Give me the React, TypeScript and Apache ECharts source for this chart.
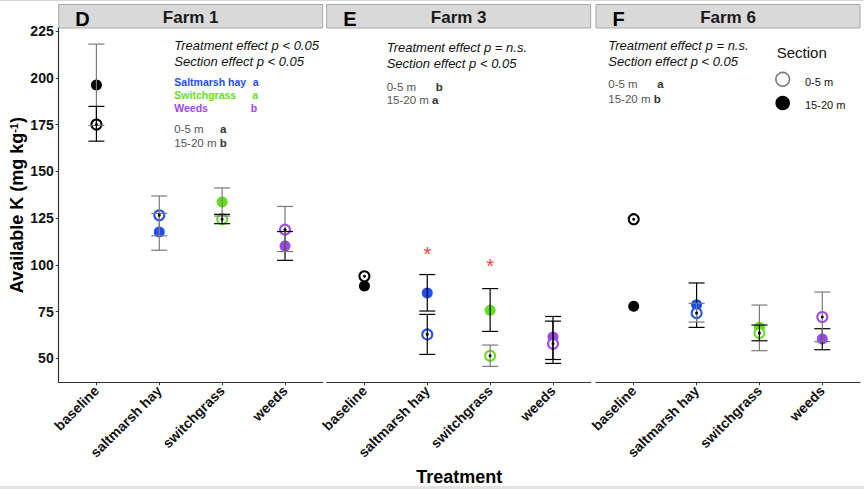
import React, { useEffect, useRef } from "react";
import * as echarts from "echarts";

// ---------- data ----------
const categories = ["baseline", "saltmarsh hay", "switchgrass", "weeds"];
const farms = ["Farm 1", "Farm 3", "Farm 6"];
const panelLetters = ["D", "E", "F"];
const yTicks = [50, 75, 100, 125, 150, 175, 200, 225];
const sectionLabels = ["0-5 m", "15-20 m"];

// 0-5 m (open circles): mean, lower, upper
const farm1Shallow = [175.0, 126.5, 124.4, 118.8];
const farm1ShallowLow = [166.1, 115.5, 122.0, 107.1];
const farm1ShallowHigh = [184.7, 136.8, 127.0, 131.2];
// 15-20 m (filled circles)
const farm1Deep = [196.1, 117.6, 133.6, 110.1];
const farm1DeepLow = [174.5, 107.8, 126.1, 102.4];
const farm1DeepHigh = [218.0, 127.5, 141.1, 117.8];

const farm3Shallow = [93.9, 62.8, 51.4, 57.8];
const farm3ShallowLow = [null, 52.1, 45.7, 47.3];
const farm3ShallowHigh = [null, 73.5, 57.1, 69.9];
const farm3Deep = [88.7, 84.9, 75.7, 61.4];
const farm3DeepLow = [null, 75.3, 64.4, 49.4];
const farm3DeepHigh = [null, 94.8, 87.3, 72.4];
const farm3Stars = [null, 107.8, 101.5, null];

const farm6Shallow = [124.4, 74.2, 63.5, 72.1];
const farm6ShallowLow = [null, 69.4, 59.4, 58.9];
const farm6ShallowHigh = [null, 79.4, 67.8, 85.45];
const farm6Deep = [77.8, 78.7, 66.6, 60.3];
const farm6DeepLow = [null, 66.55, 54.1, 54.6];
const farm6DeepHigh = [null, 90.3, 78.5, 65.85];

const effectTexts = [
  ["Treatment effect p < 0.05", "Section effect p < 0.05"],
  ["Treatment effect p = n.s.", "Section effect p < 0.05"],
  ["Treatment effect p = n.s.", "Section effect p < 0.05"],
];
const sectionLetters = [
  ["a", "b"],
  ["b", "a"],
  ["a", "b"],
];
const treatmentLetters = ["a", "a", "b"]; // Farm 1 only: saltmarsh hay, switchgrass, weeds
const treatmentNames = ["Saltmarsh hay", "Switchgrass", "Weeds"];

// ---------- styles ----------
const FONT = "Liberation Sans, Arial, Helvetica, sans-serif";
const catColors = ["#000000", "#1f4ef2", "#66dd1e", "#9d48e8"];
const BLACK_BAR = "#000000";
const GREY_BAR = "#7a7a7a";
// error bar tone per panel (1 = black, 0 = grey)
const shallowTone = [
  [1, 0, 1, 0],
  [0, 1, 0, 1],
  [0, 0, 1, 0],
];
const deepTone = [
  [0, 0, 0, 1],
  [0, 1, 1, 1],
  [0, 1, 0, 1],
];

const panelLeft = [58.7, 326.7, 596];
const panelWidth = 264;
const panelTop = 28;
const panelHeight = 354.3;
const Y_MIN = 37.2;
const Y_MAX = 226.6;

const panels = [
  {
    s: farm1Shallow, sl: farm1ShallowLow, sh: farm1ShallowHigh,
    d: farm1Deep, dl: farm1DeepLow, dh: farm1DeepHigh, stars: [null, null, null, null],
  },
  {
    s: farm3Shallow, sl: farm3ShallowLow, sh: farm3ShallowHigh,
    d: farm3Deep, dl: farm3DeepLow, dh: farm3DeepHigh, stars: farm3Stars,
  },
  {
    s: farm6Shallow, sl: farm6ShallowLow, sh: farm6ShallowHigh,
    d: farm6Deep, dl: farm6DeepLow, dh: farm6DeepHigh, stars: [null, null, null, null],
  },
];

function errorBarRender(params: any, api: any) {
  const x = api.value(0);
  const lo = api.value(1);
  const hi = api.value(2);
  const tone = api.value(3);
  const pLo = api.coord([x, lo]);
  const pHi = api.coord([x, hi]);
  const w = 8;
  const style = { stroke: tone ? BLACK_BAR : GREY_BAR, lineWidth: 1.2 };
  return {
    type: "group",
    children: [
      { type: "line", shape: { x1: pLo[0], y1: pLo[1], x2: pHi[0], y2: pHi[1] }, style },
      { type: "line", shape: { x1: pLo[0] - w, y1: pLo[1], x2: pLo[0] + w, y2: pLo[1] }, style },
      { type: "line", shape: { x1: pHi[0] - w, y1: pHi[1], x2: pHi[0] + w, y2: pHi[1] }, style },
    ],
  };
}

function starRender(params: any, api: any) {
  const p = api.coord([api.value(0), api.value(1)]);
  return {
    type: "text",
    x: p[0],
    y: p[1] + 4,
    style: {
      text: "*",
      fill: "#f2473a",
      fontSize: 20,
      fontFamily: FONT,
      align: "center",
      verticalAlign: "middle",
    },
  };
}

function buildOption() {
  const grid: any[] = [];
  const xAxis: any[] = [];
  const yAxis: any[] = [];
  const series: any[] = [];
  const graphic: any[] = [];
  const xPositions = categories.map((_, j) => j + 1);

  panels.forEach((pn, i) => {
    grid.push({ left: panelLeft[i], top: panelTop, width: panelWidth, height: panelHeight });
    xAxis.push({
      type: "value",
      gridIndex: i,
      min: 0.4,
      max: 4.6,
      axisLine: { show: true, lineStyle: { color: "#333", width: 1.2 } },
      axisTick: { show: true, customValues: xPositions, length: 3, lineStyle: { color: "#333" } },
      splitLine: { show: false },
      axisLabel: {
        customValues: xPositions,
        formatter: (v: number) => categories[Math.round(v) - 1] ?? "",
        rotate: 45,
        margin: 6,
        fontFamily: FONT,
        fontSize: 14,
        fontWeight: "bold",
        color: "#111",
      },
    });
    if (i === 0) {
      yAxis.push({
        type: "value",
        gridIndex: i,
        min: Y_MIN,
        max: Y_MAX,
        axisLine: { show: true, lineStyle: { color: "#333", width: 1.2 } },
        axisTick: { show: true, customValues: yTicks, length: 3, lineStyle: { color: "#333" } },
        splitLine: { show: false },
        axisLabel: {
          customValues: yTicks,
          margin: 5,
          fontFamily: FONT,
          fontSize: 14,
          fontWeight: "bold",
          color: "#111",
        },
        name: "{b|Available K (mg kg}{s|-1}{b|)}",
        nameLocation: "middle",
        nameRotate: 90,
        nameGap: 31,
        nameTextStyle: {
          fontFamily: FONT,
          fontSize: 18,
          fontWeight: "bold",
          color: "#000",
          rich: {
            b: { fontFamily: FONT, fontSize: 18, fontWeight: "bold", color: "#000" },
            s: { fontFamily: FONT, fontSize: 11, fontWeight: "bold", color: "#000", verticalAlign: "top" },
          },
        },
      });
    } else {
      yAxis.push({ type: "value", gridIndex: i, min: Y_MIN, max: Y_MAX, show: false, splitLine: { show: false } });
    }

    // filled (15-20 m)
    series.push({
      type: "scatter",
      xAxisIndex: i,
      yAxisIndex: i,
      symbol: "circle",
      symbolSize: 11,
      silent: true,
      emphasis: { disabled: true },
      data: categories.map((_, j) => ({ value: [j + 1, pn.d[j]], itemStyle: { color: catColors[j], opacity: 1 } })),
      z: 2,
    });
    // open (0-5 m)
    series.push({
      type: "scatter",
      xAxisIndex: i,
      yAxisIndex: i,
      symbol: "circle",
      symbolSize: 10,
      silent: true,
      emphasis: { disabled: true },
      data: categories.map((_, j) => ({
        value: [j + 1, pn.s[j]],
        itemStyle: { color: "#ffffff", borderColor: catColors[j], borderWidth: 2, opacity: 1 },
      })),
      z: 3,
    });
    // error bars
    const bars: any[] = [];
    categories.forEach((_, j) => {
      if (pn.dl[j] != null) bars.push([j + 1, pn.dl[j], pn.dh[j], deepTone[i][j]]);
      if (pn.sl[j] != null) bars.push([j + 1, pn.sl[j], pn.sh[j], shallowTone[i][j]]);
    });
    series.push({
      type: "custom",
      xAxisIndex: i,
      yAxisIndex: i,
      silent: true,
      renderItem: errorBarRender,
      data: bars,
      z: 4,
    });
    // centre dots
    series.push({
      type: "scatter",
      xAxisIndex: i,
      yAxisIndex: i,
      symbol: "circle",
      symbolSize: 3,
      silent: true,
      emphasis: { disabled: true },
      itemStyle: { color: "#000", opacity: 1 },
      data: categories.map((_, j) => [j + 1, pn.s[j]]),
      z: 5,
    });
    // stars
    const stars = categories
      .map((_, j) => (pn.stars[j] != null ? [j + 1, pn.stars[j]] : null))
      .filter((d) => d != null);
    if (stars.length) {
      series.push({
        type: "custom",
        xAxisIndex: i,
        yAxisIndex: i,
        silent: true,
        renderItem: starRender,
        data: stars,
        z: 6,
      });
    }

    // strip
    graphic.push({
      type: "rect",
      shape: { x: panelLeft[i], y: 4.5, width: panelWidth, height: 23.5 },
      style: { fill: "#d9d9d9", stroke: "#a8a8a8", lineWidth: 1 },
      silent: true,
    });
    graphic.push({
      type: "text",
      x: panelLeft[i] + panelWidth / 2,
      y: 17,
      style: {
        text: farms[i],
        fontFamily: FONT,
        fontSize: 17,
        fontWeight: "bold",
        fill: "#1a1a1a",
        align: "center",
        verticalAlign: "middle",
      },
      silent: true,
    });
    graphic.push({
      type: "text",
      x: panelLeft[i] + 16.5,
      y: 19,
      style: {
        text: panelLetters[i],
        fontFamily: FONT,
        fontSize: 20,
        fontWeight: "bold",
        fill: "#000",
        align: "left",
        verticalAlign: "middle",
      },
      silent: true,
    });
  });

  // ---- annotations ----
  const annX = [174.3, 386.7, 608.3];
  const annY1 = [45, 47.7, 45];
  const annY2 = [61, 63.3, 61];
  const secY1 = [129, 86.7, 84];
  const secY2 = [143.3, 100, 99];
  const secLetterX = [220, 435.7, 657.3];
  const italic = (text: string, x: number, y: number) => ({
    type: "text",
    x,
    y,
    silent: true,
    style: {
      text,
      fontFamily: FONT,
      fontSize: 13,
      fontStyle: "italic",
      fill: "#111",
      align: "left",
      verticalAlign: "middle",
    },
  });
  const plain = (text: string, x: number, y: number, bold: boolean, fill: string, size = 11.5) => ({
    type: "text",
    x,
    y,
    silent: true,
    style: {
      text,
      fontFamily: FONT,
      fontSize: size,
      fontWeight: bold ? "bold" : "normal",
      fill,
      align: "left",
      verticalAlign: "middle",
    },
  });
  for (let i = 0; i < 3; i++) {
    graphic.push(italic(effectTexts[i][0], annX[i], annY1[i]));
    graphic.push(italic(effectTexts[i][1], annX[i], annY2[i]));
    graphic.push(plain(sectionLabels[0], annX[i], secY1[i], false, "#555"));
    graphic.push(plain(sectionLetters[i][0], secLetterX[i], secY1[i], true, "#333"));
    graphic.push({
      type: "text",
      x: annX[i],
      y: secY2[i],
      silent: true,
      style: {
        text: `{n|${sectionLabels[1]} }{b|${sectionLetters[i][1]}}`,
        align: "left",
        verticalAlign: "middle",
        rich: {
          n: { fontFamily: FONT, fontSize: 11.5, fill: "#555" },
          b: { fontFamily: FONT, fontSize: 11.5, fontWeight: "bold", fill: "#333" },
        },
      },
    });
  }
  // Farm 1 treatment letters
  const trtY = [81.7, 94.7, 107.7];
  const trtLetterX = [252.8, 252.3, 250.7];
  treatmentNames.forEach((nm, k) => {
    graphic.push(plain(nm, annX[0], trtY[k], true, catColors[k + 1], 10.5));
    graphic.push(plain(treatmentLetters[k], trtLetterX[k], trtY[k], true, catColors[k + 1], 10.5));
  });

  // ---- legend ----
  graphic.push({
    type: "text",
    x: 776.7,
    y: 52.7,
    silent: true,
    style: { text: "Section", fontFamily: FONT, fontSize: 15, fill: "#111", align: "left", verticalAlign: "middle" },
  });
  graphic.push({
    type: "circle",
    shape: { cx: 782.7, cy: 79.3, r: 6.8 },
    style: { fill: "#fff", stroke: "#7a7a7a", lineWidth: 1.6 },
    silent: true,
  });
  graphic.push({
    type: "circle",
    shape: { cx: 782.7, cy: 103, r: 7.3 },
    style: { fill: "#000" },
    silent: true,
  });
  graphic.push(plain(sectionLabels[0], 805, 81.5, false, "#111", 11));
  graphic.push(plain(sectionLabels[1], 805, 104.5, false, "#111", 11));

  // ---- x title ----
  graphic.push({
    type: "text",
    x: 459.3,
    y: 477,
    silent: true,
    style: {
      text: "Treatment",
      fontFamily: FONT,
      fontSize: 18,
      fontWeight: "bold",
      fill: "#000",
      align: "center",
      verticalAlign: "middle",
    },
  });
  // frame edges
  graphic.push({
    type: "rect",
    shape: { x: 0, y: 0, width: 864, height: 1 },
    style: { fill: "#d6d6d6" },
    silent: true,
  });
  graphic.push({
    type: "rect",
    shape: { x: 0, y: 486, width: 864, height: 3 },
    style: { fill: "#e2e2e2" },
    silent: true,
  });

  return {
    animation: false,
    backgroundColor: "#ffffff",
    grid,
    xAxis,
    yAxis,
    series,
    graphic,
  };
}

export default function App() {
  const ref = useRef<HTMLDivElement>(null);
  useEffect(() => {
    if (!ref.current) return;
    const chart = echarts.init(ref.current, undefined, { renderer: "svg" });
    chart.setOption(buildOption() as any);
    return () => chart.dispose();
  }, []);
  return (
    <div
      ref={ref}
      style={{ position: "fixed", left: 0, top: 0, width: 864, height: 489, background: "#fff" }}
    />
  );
}
